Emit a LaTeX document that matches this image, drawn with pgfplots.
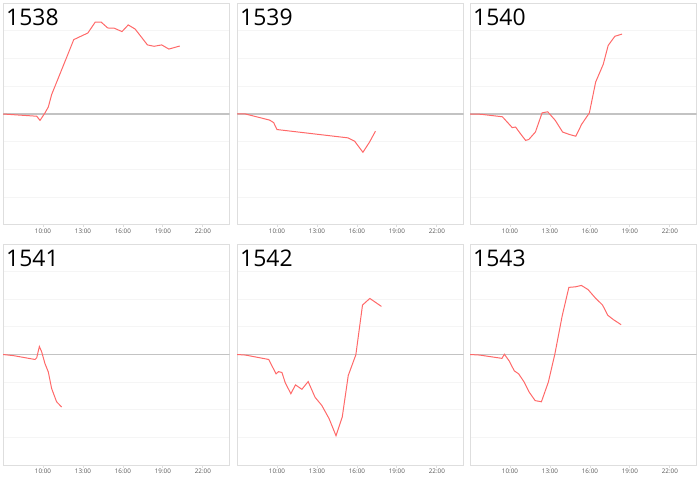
\documentclass[border=0pt]{standalone}
\usepackage{fontspec}
\setmainfont{Open Sans}
\usepackage{pgfplots}
\pgfplotsset{compat=1.18}
\definecolor{linered}{RGB}{255,105,105}
\definecolor{bordergray}{RGB}{222,222,222}
\definecolor{gridgray}{RGB}{245,245,245}
\definecolor{zerogray}{RGB}{195,195,195}
\definecolor{ticklab}{RGB}{85,85,85}
\pgfplotsset{
  panel/.style={
    scale only axis,
    width=226.5bp,
    xmin=7, xmax=24, ymin=-4, ymax=4,
    xtick={10,13,16,19,22},
    xticklabels={10:00,13:00,16:00,19:00,22:00},
    ytick={-3,-2,-1,1,2,3},
    yticklabels={},
    ymajorgrids,
    grid style={color=gridgray, line width=0.8bp},
    axis line style={color=bordergray, line width=1bp},
    xtick pos=left,
    xtick align=outside,
    major tick length=2.5bp,
    xtick style={color=bordergray, line width=0.8bp},
    ytick style={draw=none},
    xticklabel style={font=\fontsize{6.3}{7}\selectfont, text=ticklab, inner sep=1bp},
    clip=true,
  },
  redline/.style={color=linered, line width=1bp, mark=none},
  zeroline/.style={color=zerogray, line width=1.3bp, mark=none},
}
\newcommand{\paneltitle}[1]{\node[anchor=north west, inner sep=0pt, font=\fontsize{23}{26}\selectfont] at ([xshift=3bp,yshift=-6bp]rel axis cs:0,1) {#1};}
\begin{document}
\begin{tikzpicture}
\useasboundingbox (0,0) rectangle (700bp,-480bp);
% Panel 1538
\begin{axis}[panel, height=222bp, at={(3bp,-3bp)}, anchor=north west]
\addplot[zeroline] coordinates {(7,0) (24,0)};
\addplot[redline] coordinates {
(7.0,0) (9.53,-0.08) (9.78,-0.23) (10.15,0.04) (10.4,0.25) (10.65,0.70) (11.76,2.02) (12.31,2.68) (13.37,2.92) (13.92,3.31) (14.37,3.31) (14.86,3.10) (15.36,3.09) (15.93,2.97) (16.40,3.21) (16.92,3.06) (17.84,2.49) (18.34,2.44) (18.91,2.49) (19.45,2.34) (20.27,2.45)
};
\paneltitle{1538}
\end{axis}
% Panel 1539
\begin{axis}[panel, height=222bp, at={(237bp,-3bp)}, anchor=north west]
\addplot[zeroline] coordinates {(7,0) (24,0)};
\addplot[redline] coordinates {
(7.0,0) (7.64,0) (9.45,-0.22) (9.75,-0.31) (10.0,-0.56) (15.33,-0.86) (15.83,-0.98) (16.45,-1.38) (16.95,-1.01) (17.39,-0.62)
};
\paneltitle{1539}
\end{axis}
% Panel 1540
\begin{axis}[panel, height=222bp, at={(470bp,-3bp)}, anchor=north west]
\addplot[zeroline] coordinates {(7,0) (24,0)};
\addplot[redline] coordinates {
(7.0,0) (7.82,-0.01) (9.43,-0.1) (10.17,-0.49) (10.42,-0.47) (10.74,-0.68) (11.17,-0.95) (11.41,-0.92) (11.91,-0.65) (12.41,0.04) (12.83,0.08) (13.40,-0.23) (13.95,-0.65) (14.47,-0.74) (14.94,-0.80) (15.38,-0.37) (15.96,0.04) (16.43,1.15) (17.0,1.79) (17.37,2.47) (17.87,2.80) (18.41,2.88)
};
\paneltitle{1540}
\end{axis}
% Panel 1541
\begin{axis}[panel, height=221bp, at={(3bp,-244bp)}, anchor=north west]
\addplot[zeroline] coordinates {(7,0) (24,0)};
\addplot[redline] coordinates {
(7.0,0) (7.78,-0.04) (9.40,-0.18) (9.53,-0.12) (9.73,0.29) (9.90,0.10) (10.15,-0.33) (10.40,-0.63) (10.65,-1.23) (11.02,-1.71) (11.40,-1.90)
};
\paneltitle{1541}
\end{axis}
% Panel 1542
\begin{axis}[panel, height=221bp, at={(237bp,-244bp)}, anchor=north west]
\addplot[zeroline] coordinates {(7,0) (24,0)};
\addplot[redline] coordinates {
(7.0,0) (7.64,-0.02) (9.38,-0.18) (9.93,-0.70) (10.12,-0.62) (10.37,-0.65) (10.62,-1.02) (11.04,-1.42) (11.39,-1.10) (11.87,-1.26) (12.34,-0.98) (12.86,-1.55) (13.36,-1.84) (13.91,-2.32) (14.43,-2.94) (14.90,-2.26) (15.35,-0.76) (15.92,-0.01) (16.42,1.79) (16.97,2.03) (17.84,1.74)
};
\paneltitle{1542}
\end{axis}
% Panel 1543
\begin{axis}[panel, height=221bp, at={(470bp,-244bp)}, anchor=north west]
\addplot[zeroline] coordinates {(7,0) (24,0)};
\addplot[redline] coordinates {
(7.0,0) (7.72,-0.02) (9.40,-0.14) (9.58,0.01) (9.95,-0.24) (10.32,-0.59) (10.65,-0.70) (11.07,-1.00) (11.44,-1.36) (11.89,-1.67) (12.36,-1.71) (12.88,-1.00) (13.37,0.02) (13.92,1.40) (14.42,2.43) (14.91,2.45) (15.36,2.50) (15.86,2.35) (16.40,2.05) (16.95,1.79) (17.34,1.42) (17.77,1.26) (18.34,1.08)
};
\paneltitle{1543}
\end{axis}
\end{tikzpicture}
\end{document}
